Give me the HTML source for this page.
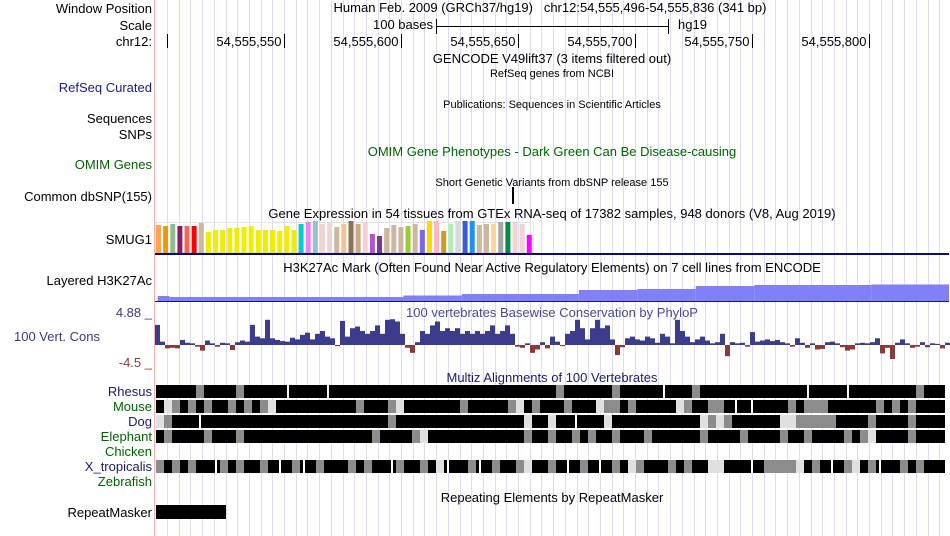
<!DOCTYPE html>
<html><head><meta charset="utf-8"><style>
html,body{margin:0;padding:0;background:#fff;}
svg{display:block;font-family:"Liberation Sans",sans-serif;}
</style></head><body>
<svg id="c" width="950" height="536" viewBox="0 0 950 536" xmlns="http://www.w3.org/2000/svg">
<g id="grid"></g>
<line x1="154.5" y1="0" x2="154.5" y2="536" stroke="#f6b0b0" stroke-width="1"/>
<g font-size="13" fill="#000" text-anchor="end">
<text x="152" y="13">Window Position</text>
<text x="152" y="30">Scale</text>
<text x="152" y="46">chr12:</text>
<text x="152" y="92" fill="#1a1a90">RefSeq Curated</text>
<text x="152" y="123">Sequences</text>
<text x="152" y="139">SNPs</text>
<text x="152" y="169" fill="#006400">OMIM Genes</text>
<text x="152" y="201">Common dbSNP(155)</text>
<text x="152" y="244">SMUG1</text>
<text x="152" y="285">Layered H3K27Ac</text>
<text x="152" y="317" fill="#3a3a8a">4.88 _</text>
<text x="100" y="341" fill="#3a3a8a">100 Vert. Cons</text>
<text x="152" y="367" fill="#8b3a3a">-4.5 _</text>
<text x="152" y="396" fill="#1a1a70">Rhesus</text>
<text x="152" y="411" fill="#006400">Mouse</text>
<text x="152" y="426" fill="#1a1a70">Dog</text>
<text x="152" y="441" fill="#006400">Elephant</text>
<text x="152" y="456" fill="#006400">Chicken</text>
<text x="152" y="471" fill="#1a1a70">X_tropicalis</text>
<text x="152" y="486" fill="#006400">Zebrafish</text>
<text x="152" y="517">RepeatMasker</text>
</g>
<g font-size="13" text-anchor="middle">
<text x="550" y="12">Human Feb. 2009 (GRCh37/hg19)&#160;&#160;&#160;chr12:54,555,496-54,555,836 (341 bp)</text>
<text x="552" y="63">GENCODE V49lift37 (3 items filtered out)</text>
<text x="552" y="77" font-size="11">RefSeq genes from NCBI</text>
<text x="552" y="108" font-size="11">Publications: Sequences in Scientific Articles</text>
<text x="552" y="156" fill="#006400">OMIM Gene Phenotypes - Dark Green Can Be Disease-causing</text>
<text x="552" y="186" font-size="11">Short Genetic Variants from dbSNP release 155</text>
<text x="552" y="218">Gene Expression in 54 tissues from GTEx RNA-seq of 17382 samples, 948 donors (V8, Aug 2019)</text>
<text x="552" y="272">H3K27Ac Mark (Often Found Near Active Regulatory Elements) on 7 cell lines from ENCODE</text>
<text x="552" y="317" fill="#4848a0">100 vertebrates Basewise Conservation by PhyloP</text>
<text x="552" y="382" fill="#1a1a70">Multiz Alignments of 100 Vertebrates</text>
<text x="552" y="502">Repeating Elements by RepeatMasker</text>
</g>
<g>
<text x="433" y="29" font-size="13" text-anchor="end">100 bases</text>
<line x1="436.5" y1="19" x2="436.5" y2="34" stroke="#000"/>
<line x1="436" y1="26.5" x2="669" y2="26.5" stroke="#000"/>
<line x1="668.5" y1="19" x2="668.5" y2="34" stroke="#000"/>
<text x="678" y="29" font-size="13">hg19</text>
</g>
<g id="ruler"></g>
<rect x="512" y="187" width="2" height="17" fill="#000"/>
<g id="gtex"></g>
<rect x="155" y="253" width="794" height="2" fill="#0c0c6c"/>
<g id="h3k"></g>
<g id="phylo"></g>
<g id="multiz"></g>
<rect x="156" y="505" width="70" height="14" fill="#000"/>
</svg>
<script>
const NS="http://www.w3.org/2000/svg";
// ---- data ----
const rulerTicks=[54555500,54555550,54555600,54555650,54555700,54555750,54555800];
const rulerLabels=["","54,555,550","54,555,600","54,555,650","54,555,700","54,555,750","54,555,800"];
const gtexHeights=[28,27,29,27,27,27,30,21,23,23,25,25,26,27,23,23,23,22,27,23,29,31,32,29,31,26,29,32,29,31,19,17,25,28,26,27,29,23,32,32,22,29,32,32,32,28,29,29,31,31,31,29,18];
const gtexColors=["#FFA54F","#EE9A00","#8FBC8F","#8B1C62","#EE6A50","#FF0000","#CDB79E","#EEEE00","#EEEE00","#EEEE00","#EEEE00","#EEEE00","#EEEE00","#EEEE00","#EEEE00","#EEEE00","#EEEE00","#EEEE00","#EEEE00","#EEEE00","#00CDCD","#EE82EE","#9AC0CD","#EED5D2","#EED5D2","#CDB79E","#EEC591","#8B7355","#CDAA7D","#EED5D2","#B452CD","#7A378B","#CDB79E","#CDB79E","#CDB79E","#9ACD32","#CDB79E","#7A67EE","#FFD700","#FFB6C1","#CD9B1D","#B4EEB4","#D9D9D9","#3A5FCD","#1E90FF","#CDB79E","#CDB79E","#FFD39B","#A6A6A6","#008B45","#EED5D2","#EED5D2","#FF00FF"];
const h3kStarts=[54555496,54555501,54555601,54555626,54555676,54555701,54555726,54555751,54555801];
const h3kValues=[5,4,5.5,7,11,12,15,16,16.5];
const phyloValues=[3.6,0.6,-0.6,-0.5,-0.6,0.9,0.4,0.3,-0.3,-1.0,0.8,0.3,-0.3,0.4,0.3,-0.9,0.5,0.8,0.6,3.6,1.5,1.2,4.5,1.2,0.9,0.7,0.6,1.3,1.0,1.8,2.2,1.0,2.0,2.5,1.5,1.2,-0.2,4.3,1.5,3.0,3.3,2.5,2.0,2.5,3.5,2.0,4.5,4.6,4.2,2.0,-0.5,-1.4,0.5,2.5,2.0,3.5,4.2,2.5,3.0,2.5,3.0,2.0,2.5,2.0,2.5,2.0,2.5,3.5,2.0,2.5,3.5,2.0,-0.3,-0.5,0.3,-1.4,-0.8,0.5,-0.6,1.5,0.6,-0.2,2.0,2.5,4.5,3.0,1.0,3.0,4.5,3.0,3.5,1.0,-1.8,-0.4,1.2,1.5,1.0,0.8,1.5,1.2,0.4,2.0,1.5,0.3,4.5,2.5,1.5,0.5,1.0,1.5,0.8,0.3,0.5,2.0,-2.0,0.5,0.3,0.4,-0.3,2.3,0.6,0.8,1.0,0.7,0.9,0.5,0.3,-0.3,1.2,0.4,-0.5,0.3,-0.8,-0.7,0.5,0.6,0.3,-0.4,-1.0,-0.8,0.3,0.4,0.3,0.5,1.2,-1.5,-0.5,-2.5,0.4,1.0,0.3,-0.5,-0.3,0.5,-0.4,0.3,0.2,-0.6,0.4];
const multizRows={
 rhesus:  "KKKKKGKKKKGKKKKKWKKKKWKKKKKKKKKKKKKKKKKKKKKKKKKKKKGKKKKKKGKKKKKWKKKGKKKKKKKKKKKKKWKKKKWKKKKKKKKGKKK",
 mouse:   "KLGKGKGKKGKGKGLKKKKKKKKKKGKKKGLKKKKKKKGKKKKKGLKGKKKGKKKLGGKGKKKKKLGKKGGKWKWKKKKGKGGGKKKKKKGKGKGKK",
 dog:     "LGKKKWKKKKKKKKKKKKKKKKKKKKKKKGKKKKKKKKKKKKKKKKLKKLKKWKKKLKKKKKKKKKKKLGLGKKKKKKLLGGGGGKKKKGKKKKGKKK",
 elephant:"KGKKKKGKKKGKKKKKKKKKKKKKKKKGKKKKGLKKKKKKKKKKKKGKKGKKGKGKKGKKKGKKKKKKGKKKKGKKKKGKKGKKKKGKGLKKKKGKK",
 xtrop:   "GKGKGKKWGKGKKGKWKGWKGKKKGKGKKWGKKGKLWKKGWKGKKGLKKGKWKGKWKGKLGKKKGKGKKLLKKKWKGGGGLKGKWKGLKGWKKGKGK"
};
const multizY={rhesus:385,mouse:400,dog:415,elephant:430,xtrop:460};
// ---- axis functions ----
const pxPerBase=2.34;
function xBase(p){return 167+(p-54555500)*pxPerBase;}
const phyloZeroY=345, phyloScale=5.6;
function yPhylo(v){return phyloZeroY - v*phyloScale;}
function xPhylo(i){return 155+i*5;}
function xGtex(i){return 156+i*7.13;}
const shade={K:"#000",G:"#8c8c8c",L:"#e0e0e0",W:"#000"};
const svg=document.getElementById('c');
function el(tag,attrs,parent){const e=document.createElementNS(NS,tag);for(const k in attrs)e.setAttribute(k,attrs[k]);parent.appendChild(e);return e;}
// grid
const grid=document.getElementById('grid');
for(let p=54555500;xBase(p)<950;p+=5){
  const x=Math.round(xBase(p))+0.5;
  const l=el('line',{x1:x,y1:0,x2:x,y2:536,stroke:'#dcdcf6','stroke-width':1},grid);
  
  
}
// ruler
const ruler=document.getElementById('ruler');
rulerTicks.forEach((p,i)=>{
  const x=Math.round(xBase(p))+0.5;
  const t=el('line',{x1:x,y1:34,x2:x,y2:48,stroke:'#000'},ruler);
  
  
  if(rulerLabels[i]){
    const tx=el('text',{x:x-3,y:46,'font-size':13,'text-anchor':'end'},ruler);
    tx.textContent=rulerLabels[i];
    
    
  }
});
// gtex
const gtex=document.getElementById('gtex');
const gb=el('rect',{x:155.5,y:222.5,width:378,height:30,fill:'none',stroke:'#e4e4e4'},gtex);


gtexHeights.forEach((h,i)=>{
  const r=el('rect',{x:xGtex(i),y:253-h,width:5,height:h,fill:gtexColors[i]},gtex);
  
  
});
// h3k27ac
const h3k=document.getElementById('h3k');
h3kStarts.forEach((s,i)=>{
  const x0=Math.max(155,xBase(s)), x1=i+1<h3kStarts.length?xBase(h3kStarts[i+1]):949;
  const r=el('rect',{x:x0,y:301-h3kValues[i],width:x1-x0,height:h3kValues[i],fill:'#8080f8'},h3k);
  
  
});
const bl=el('rect',{x:155,y:301,width:794,height:1,fill:'#1a1a6a'},h3k);


// phylop
const phylo=document.getElementById('phylo');
phyloValues.forEach((v,i)=>{
  const y=yPhylo(v);
  const r=el('rect',{x:xPhylo(i),y:Math.min(y,phyloZeroY),width:5,height:Math.max(1,Math.abs(y-phyloZeroY)),fill:v>=0?'#3c3c8c':'#8b3a3a'},phylo);
  
  
});
// multiz
const mz=document.getElementById('multiz');
for(const k in multizRows){
  const s=multizRows[k];
  for(let i=0;i<99;i++){
    const c=s[i]||'K';
    const r=el('rect',{x:156+i*8,y:multizY[k],width:(i==98?5:8),height:13,fill:shade[c]},mz);
    
    
    if(c==='W'){
      const g=el('rect',{x:156+i*8+3,y:multizY[k],width:2,height:13,fill:'#fff'},mz);
      
      
    }
  }
}
</script>
</body></html>
